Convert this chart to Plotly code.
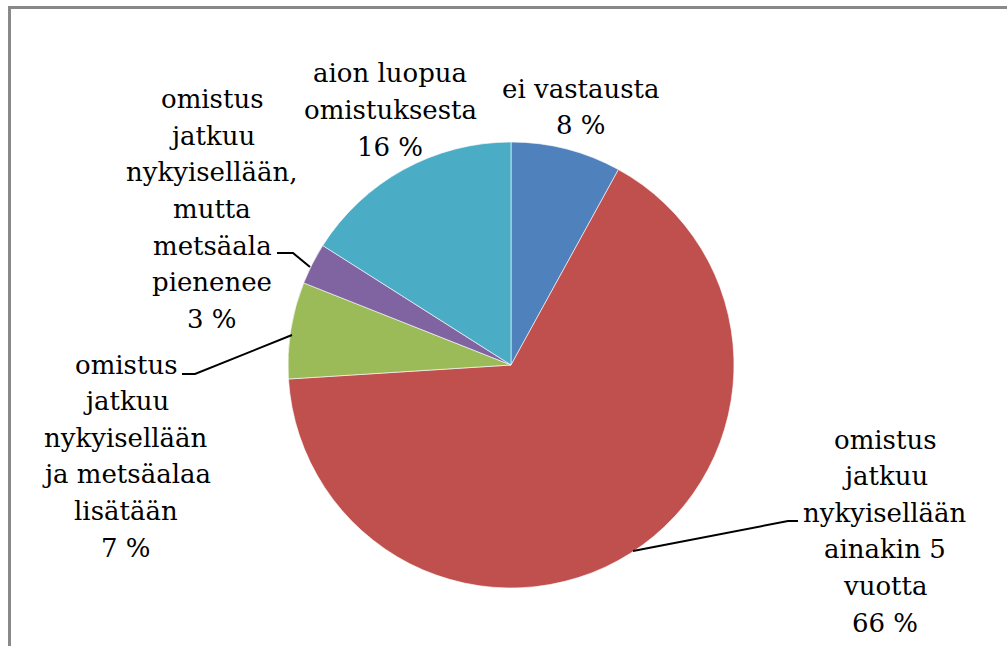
import plotly.graph_objects as go

W, H = 1007, 646

categories = [
    "ei vastausta",
    "omistus jatkuu nykyisellään ainakin 5 vuotta",
    "omistus jatkuu nykyisellään ja metsäalaa lisätään",
    "omistus jatkuu nykyisellään, mutta metsäala pienenee",
    "aion luopua omistuksesta",
]
values = [8, 66, 7, 3, 16]
label_lines = [
    ["ei vastausta"],
    ["omistus", "jatkuu", "nykyisellään", "ainakin 5", "vuotta"],
    ["omistus", "jatkuu", "nykyisellään", "ja metsäalaa", "lisätään"],
    ["omistus", "jatkuu", "nykyisellään,", "mutta", "metsäala", "pienenee"],
    ["aion luopua", "omistuksesta"],
]
colors = ["#4F81BD", "#C0504D", "#9BBB59", "#8064A2", "#4BACC6"]

# label block centres (pixels), line spacing, and leader lines (pixels)
label_pos = [(581, 107), (885, 531), (126, 456), (212, 209), (390, 110)]
LINE_SPACING = 36.6
leaders = [
    None,
    [(633, 551), (788, 521), (798, 521)],
    [(182, 374), (195, 374), (292, 335)],
    [(277, 253), (293, 253), (310, 267)],
    None,
]

FONT = "DejaVu Serif"
FONT_SIZE = 26

def px(x):
    return x / W

def py(y):
    return 1 - y / H

cx, cy, r = 511, 365, 223

fig = go.Figure(go.Pie(
    labels=categories, values=values, sort=False, direction="clockwise", rotation=0,
    marker=dict(colors=colors, line=dict(color="rgba(255,255,255,0.6)", width=1)),
    textinfo="none", hoverinfo="label+percent", showlegend=False,
    domain=dict(x=[px(cx - r), px(cx + r)], y=[py(cy + r), py(cy - r)]),
))

total = sum(values)
annotations = []
for lines, v, (lx, ly) in zip(label_lines, values, label_pos):
    pct = round(100 * v / total)
    all_lines = lines + [f"{pct} %"]
    n = len(all_lines)
    for i, t in enumerate(all_lines):
        y_line = ly + (i - (n - 1) / 2) * LINE_SPACING
        annotations.append(dict(
            x=px(lx), y=py(y_line), xref="paper", yref="paper",
            xanchor="center", yanchor="middle", align="center",
            text=t, showarrow=False,
            font=dict(family=FONT, size=FONT_SIZE, color="#000000"),
        ))

shapes = []
for seg in leaders:
    if seg is None:
        continue
    path = "M " + " L ".join(f"{x},{H - y}" for x, y in seg)
    shapes.append(dict(type="path", xref="x", yref="y", path=path,
                       line=dict(color="#000000", width=2)))
# outer frame (left and top edges visible)
shapes.append(dict(type="path", xref="x", yref="y",
                   path=f"M 9.5,{-5} L 9.5,{H - 7.5} L {W + 5},{H - 7.5}",
                   line=dict(color="#898989", width=3)))

fig.update_layout(
    width=W, height=H, margin=dict(l=0, r=0, t=0, b=0),
    paper_bgcolor="#FFFFFF", plot_bgcolor="rgba(0,0,0,0)",
    font=dict(family=FONT),
    annotations=annotations, shapes=shapes,
    xaxis=dict(range=[0, W], visible=False, fixedrange=True),
    yaxis=dict(range=[0, H], visible=False, fixedrange=True),
)

fig.write_html("out.html", config={"displayModeBar": False},
               post_script="document.body.style.margin='0px';document.body.style.overflow='hidden';")
